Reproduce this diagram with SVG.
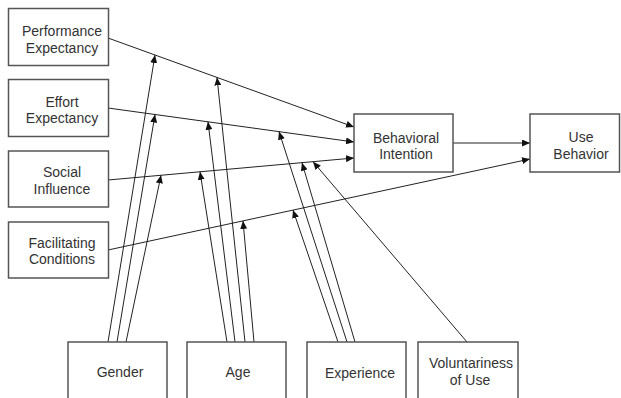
<svg xmlns="http://www.w3.org/2000/svg" width="621" height="398" viewBox="0 0 621 398">
<style>
.box{fill:#fff;stroke:#555;stroke-width:1.5}
.lbl{font-family:"Liberation Sans",Arial,sans-serif;font-size:14px;fill:#333;text-anchor:middle}
.ln{stroke:#222;stroke-width:1;fill:none;marker-end:url(#ah)}
</style>
<defs>
<marker id="ah" markerUnits="userSpaceOnUse" markerWidth="8" markerHeight="7" refX="8" refY="3.5" orient="auto">
<path d="M0,0 L8,3.5 L0,7 z" fill="#111"/>
</marker>
</defs>
<rect width="621" height="398" fill="#fff"/>
<g id="connectors">
<line class="ln" x1="108" y1="38" x2="354" y2="127"/>
<line class="ln" x1="108" y1="108" x2="354" y2="142"/>
<line class="ln" x1="108" y1="180" x2="354" y2="158"/>
<line class="ln" x1="108" y1="250" x2="530" y2="159"/>
<line class="ln" x1="453" y1="143" x2="530" y2="143"/>
<line class="ln" x1="108" y1="342" x2="155" y2="55"/>
<line class="ln" x1="117" y1="342" x2="155" y2="114.5"/>
<line class="ln" x1="126" y1="342" x2="161" y2="175.3"/>
<line class="ln" x1="227" y1="342" x2="200" y2="171.8"/>
<line class="ln" x1="235" y1="342" x2="208" y2="121.8"/>
<line class="ln" x1="245" y1="342" x2="217" y2="77.4"/>
<line class="ln" x1="254" y1="342" x2="243" y2="220.9"/>
<line class="ln" x1="338" y1="342" x2="293" y2="210.1"/>
<line class="ln" x1="347" y1="342" x2="279" y2="131.6"/>
<line class="ln" x1="355" y1="342" x2="302" y2="162.7"/>
<line class="ln" x1="467" y1="342" x2="313" y2="161.7"/>
</g>
<g id="performance-expectancy">
<rect class="box" x="8.5" y="8.5" width="100" height="57"/>
<text class="lbl" x="62" y="36">Performance</text>
<text class="lbl" x="62" y="53">Expectancy</text>
</g>
<g id="effort-expectancy">
<rect class="box" x="8.5" y="79.5" width="100" height="57"/>
<text class="lbl" x="62" y="107">Effort</text>
<text class="lbl" x="62" y="123">Expectancy</text>
</g>
<g id="social-influence">
<rect class="box" x="8.5" y="151" width="100" height="56"/>
<text class="lbl" x="62" y="177">Social</text>
<text class="lbl" x="62" y="194">Influence</text>
</g>
<g id="facilitating-conditions">
<rect class="box" x="8.5" y="222" width="100" height="56"/>
<text class="lbl" x="62" y="248">Facilitating</text>
<text class="lbl" x="62" y="264">Conditions</text>
</g>
<g id="behavioral-intention">
<rect class="box" x="354" y="114" width="99" height="58"/>
<text class="lbl" x="406" y="143">Behavioral</text>
<text class="lbl" x="406" y="159">Intention</text>
</g>
<g id="use-behavior">
<rect class="box" x="530" y="114" width="89.5" height="58"/>
<text class="lbl" x="581" y="142">Use</text>
<text class="lbl" x="581" y="159">Behavior</text>
</g>
<g id="gender">
<rect class="box" x="68" y="342" width="99" height="70"/>
<text class="lbl" x="120" y="377">Gender</text>
</g>
<g id="age">
<rect class="box" x="187" y="342" width="99" height="70"/>
<text class="lbl" x="238" y="377">Age</text>
</g>
<g id="experience">
<rect class="box" x="307" y="342" width="99" height="70"/>
<text class="lbl" x="360" y="378">Experience</text>
</g>
<g id="voluntariness-of-use">
<rect class="box" x="418" y="342" width="100" height="70"/>
<text class="lbl" x="471" y="368">Voluntariness</text>
<text class="lbl" x="470" y="385">of Use</text>
</g>
</svg>
